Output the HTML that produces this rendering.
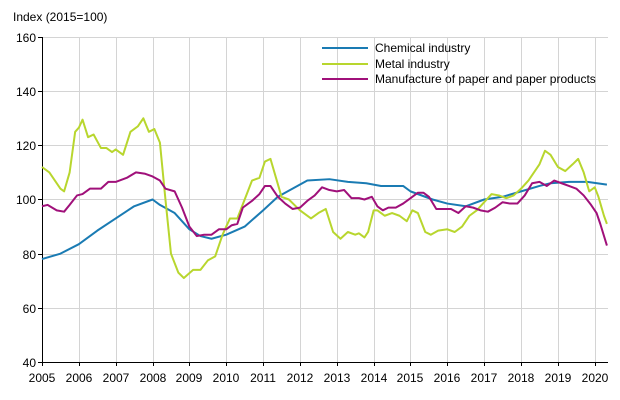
<!DOCTYPE html>
<html><head><meta charset="utf-8"><style>
html,body{margin:0;padding:0;background:#fff;}
svg{display:block;font-family:"Liberation Sans",sans-serif;font-size:12px;}
</style></head><body>
<svg width="620" height="400" xmlns="http://www.w3.org/2000/svg">
<text x="13" y="21" fill="#000">Index (2015=100)</text>
<g stroke="#d4d4d4" stroke-width="1">
<line x1="42" y1="37.5" x2="608" y2="37.5"/><line x1="42" y1="91.5" x2="608" y2="91.5"/>
<line x1="42" y1="145.5" x2="608" y2="145.5"/><line x1="42" y1="199.5" x2="608" y2="199.5"/>
<line x1="42" y1="254.5" x2="608" y2="254.5"/><line x1="42" y1="308.5" x2="608" y2="308.5"/>
<line x1="79.5" y1="37" x2="79.5" y2="362"/><line x1="116.5" y1="37" x2="116.5" y2="362"/>
<line x1="153.5" y1="37" x2="153.5" y2="362"/><line x1="189.5" y1="37" x2="189.5" y2="362"/>
<line x1="226.5" y1="37" x2="226.5" y2="362"/><line x1="263.5" y1="37" x2="263.5" y2="362"/>
<line x1="300.5" y1="37" x2="300.5" y2="362"/><line x1="337.5" y1="37" x2="337.5" y2="362"/>
<line x1="374.5" y1="37" x2="374.5" y2="362"/><line x1="410.5" y1="37" x2="410.5" y2="362"/>
<line x1="447.5" y1="37" x2="447.5" y2="362"/><line x1="484.5" y1="37" x2="484.5" y2="362"/>
<line x1="521.5" y1="37" x2="521.5" y2="362"/><line x1="558.5" y1="37" x2="558.5" y2="362"/>
<line x1="595.5" y1="37" x2="595.5" y2="362"/>
</g>
<g stroke="#000" stroke-width="1">
<line x1="42.5" y1="37" x2="42.5" y2="362"/><line x1="42" y1="362.5" x2="608" y2="362.5"/>
<line x1="38" y1="37.5" x2="42" y2="37.5"/><line x1="38" y1="91.5" x2="42" y2="91.5"/>
<line x1="38" y1="145.5" x2="42" y2="145.5"/><line x1="38" y1="199.5" x2="42" y2="199.5"/>
<line x1="38" y1="254.5" x2="42" y2="254.5"/><line x1="38" y1="308.5" x2="42" y2="308.5"/>
<line x1="38" y1="362.5" x2="42" y2="362.5"/>
<line x1="42.5" y1="362" x2="42.5" y2="366"/><line x1="79.5" y1="362" x2="79.5" y2="366"/><line x1="116.5" y1="362" x2="116.5" y2="366"/><line x1="153.5" y1="362" x2="153.5" y2="366"/><line x1="189.5" y1="362" x2="189.5" y2="366"/><line x1="226.5" y1="362" x2="226.5" y2="366"/><line x1="263.5" y1="362" x2="263.5" y2="366"/><line x1="300.5" y1="362" x2="300.5" y2="366"/><line x1="337.5" y1="362" x2="337.5" y2="366"/><line x1="374.5" y1="362" x2="374.5" y2="366"/><line x1="410.5" y1="362" x2="410.5" y2="366"/><line x1="447.5" y1="362" x2="447.5" y2="366"/><line x1="484.5" y1="362" x2="484.5" y2="366"/><line x1="521.5" y1="362" x2="521.5" y2="366"/><line x1="558.5" y1="362" x2="558.5" y2="366"/><line x1="595.5" y1="362" x2="595.5" y2="366"/>
</g>
<g text-anchor="end" fill="#000">
<text x="36" y="42">160</text><text x="36" y="96">140</text><text x="36" y="150">120</text><text x="36" y="204">100</text><text x="36" y="259">80</text><text x="36" y="313">60</text><text x="36" y="367">40</text>
</g>
<g text-anchor="middle" fill="#000">
<text x="42" y="382">2005</text><text x="79" y="382">2006</text><text x="116" y="382">2007</text><text x="153" y="382">2008</text><text x="189" y="382">2009</text><text x="226" y="382">2010</text><text x="263" y="382">2011</text><text x="300" y="382">2012</text><text x="337" y="382">2013</text><text x="374" y="382">2014</text><text x="410" y="382">2015</text><text x="447" y="382">2016</text><text x="484" y="382">2017</text><text x="521" y="382">2018</text><text x="558" y="382">2019</text><text x="595" y="382">2020</text>
</g>
<g transform="translate(42,470.33) scale(36.85,-2.7083)" fill="none" stroke-width="2" stroke-linejoin="round">
<polyline vector-effect="non-scaling-stroke" stroke="#1a7bb3" points="0,78 0.5,80 1,83.5 1.5,88.5 2,93 2.5,97.5 3,100 3.2,98 3.6,95 4,89 4.3,86.5 4.6,85.5 5,87 5.5,90 6,96 6.4,101 6.8,104 7.2,107 7.8,107.5 8.3,106.5 8.8,106 9.2,105 9.8,105 10,103 10.6,100 11,98.5 11.5,97.5 12,100 12.5,101 13,103 13.5,105 13.8,106 14.3,106.5 14.8,106.5 15.33,105.5"/>
<polyline vector-effect="non-scaling-stroke" stroke="#b8d62e" points="0,112 0.2,110 0.5,104 0.6,103 0.75,110 0.9,125 1,126.5 1.1,129.5 1.25,123 1.4,124 1.6,119 1.75,119 1.9,117.5 2,118.5 2.2,116.5 2.4,125 2.6,127 2.75,130 2.9,125 3.05,126 3.2,121 3.35,100 3.5,80 3.7,73 3.85,71 4.1,74 4.3,74 4.5,77.5 4.7,79 4.9,87 5.1,93 5.3,93 5.5,100 5.7,107 5.9,108 6.05,114 6.2,115 6.35,108 6.5,101 6.7,100 6.85,98 7,96 7.3,93 7.5,95 7.7,96.5 7.9,88 8.1,85.5 8.3,88 8.5,87 8.6,87.5 8.75,86 8.85,88 9,96 9.1,96 9.3,94 9.5,95 9.7,94 9.9,92 10.05,96 10.2,95 10.4,88 10.55,87 10.75,88.5 11,89 11.2,88 11.4,90 11.6,94 11.8,96 12,99 12.2,102 12.4,101.5 12.6,100.5 12.8,101.5 13,104 13.2,107 13.5,113 13.65,118 13.8,116.5 14,112 14.2,110.5 14.4,113 14.55,115 14.7,110 14.85,103 15,104.5 15.1,101 15.25,94 15.33,91"/>
<polyline vector-effect="non-scaling-stroke" stroke="#a0107a" points="0,97.5 0.15,98 0.4,96 0.6,95.5 0.75,98 0.95,101.5 1.1,102 1.3,104 1.6,104 1.8,106.5 2,106.5 2.3,108 2.55,110 2.8,109.5 3,108.5 3.2,107 3.35,104 3.6,103 3.8,97 4,90 4.2,86.5 4.4,87 4.6,87 4.8,89 5,89 5.15,90.5 5.3,91 5.45,97 5.7,99.5 5.9,102 6.05,105 6.2,105 6.4,101 6.6,98.5 6.8,96.5 7,97 7.2,99.5 7.4,101.5 7.6,104.5 7.8,103.5 8,103 8.2,103.5 8.4,100.5 8.6,100.5 8.75,100 8.95,101 9.1,97.5 9.25,96 9.4,97 9.6,97 9.8,98.5 10,100.5 10.2,102.5 10.35,102.5 10.5,101 10.7,96.5 10.9,96.5 11.1,96.5 11.3,95 11.5,97.5 11.7,97 11.9,96 12.1,95.5 12.3,97 12.5,99 12.7,98.5 12.9,98.5 13.1,101.5 13.3,106 13.5,106.5 13.7,105 13.9,107 14.1,106 14.3,105 14.5,104 14.7,101.5 14.9,98 15.05,95 15.15,91 15.33,83"/>
</g>
<g stroke-width="2">
<line x1="322" y1="48" x2="368" y2="48" stroke="#1a7bb3"/>
<line x1="322" y1="64" x2="368" y2="64" stroke="#b8d62e"/>
<line x1="322" y1="79" x2="368" y2="79" stroke="#a0107a"/>
</g>
<g fill="#000">
<text x="375" y="52">Chemical industry</text>
<text x="375" y="68">Metal industry</text>
<text x="375" y="83">Manufacture of paper and paper products</text>
</g>
</svg>
</body></html>
